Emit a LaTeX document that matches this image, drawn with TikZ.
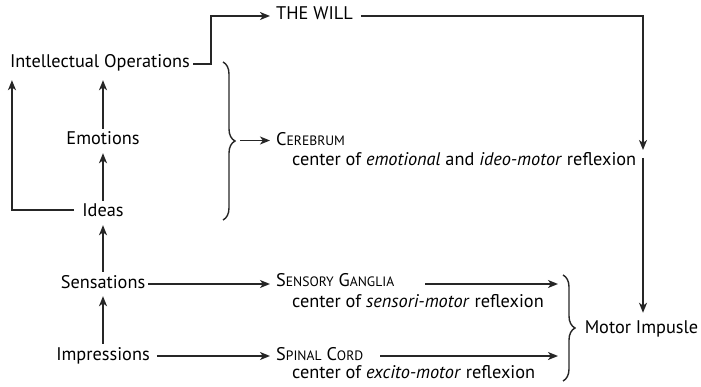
\documentclass[tikz,border=0pt]{standalone}
\usepackage{fontspec}
\setmainfont{PT Sans}
\usetikzlibrary{arrows.meta,decorations.pathreplacing,calc}
\newcommand{\fakesc}[2]{#1{\fontsize{13.6}{14}\selectfont #2}}
\begin{document}
\begin{tikzpicture}[x=1pt,y=-1pt,
  lbl/.style={anchor=base, inner xsep=3pt, inner ysep=5pt, text height=11pt, text depth=3pt,
    font=\fontsize{18.3}{20}\selectfont},
  wlbl/.style={lbl, anchor=base west},
  plain/.style={anchor=base west, inner sep=0pt, font=\fontsize{18.3}{20}\selectfont},
  conn/.style={line width=1.6pt, draw=black!85},
  arr/.style={conn, -{Stealth[length=10pt,width=8pt,inset=2.8pt]}},
  bracestyle/.style={line width=1.4pt, draw=black!85, decorate, decoration={brace, amplitude=12pt}}]
\path[use as bounding box] (0,0) rectangle (701,387);

% left column
\node[lbl] (io) at (100,68) {Intellectual Operations};
\node[lbl] (emo) at (103,145) {Emotions};
\node[lbl] (ideas) at (103,217) {Ideas};
\node[lbl] (sen) at (103,288) {Sensations};
\node[lbl] (imp) at (103,360) {Impressions};

% right labels
\node[wlbl] (will) at (273,20) {THE WILL};
\node[wlbl] (cer) at (273,146) {\fakesc{C}{EREBRUM}};
\node[plain] (cerc) at (292,166) {center of \emph{emotional} and \emph{ideo-motor} reflexion};
\node[wlbl] (sg) at (273,287) {\fakesc{S}{ENSORY} \fakesc{G}{ANGLIA}};
\node[plain] (sgc) at (292,307) {center of \emph{sensori-motor} reflexion};
\node[wlbl] (sc) at (273,360) {\fakesc{S}{PINAL} \fakesc{C}{ORD}};
\node[plain] (scc) at (292,378) {center of \emph{excito-motor} reflexion};
\node[lbl] (mi) at (641.5,333) {Motor Impusle};

% coordinates
\coordinate (b1top) at (223,62);
\coordinate (b1bot) at (223,220);
\coordinate (b1tip) at (240,140.5);
\coordinate (b2top) at (563,275);
\coordinate (b2bot) at (563,381);
\coordinate (wturn) at (211,0);
\coordinate (wdown) at (643,150);
\coordinate (wdown2) at (643,158);
\coordinate (sgout) at (425,284);
\coordinate (scout) at (380,356);
\coordinate (b2a) at (558,284);
\coordinate (b2b) at (558,356);

% vertical stack arrows
\draw[arr, shorten >=4pt] (emo.north) -- (emo.north |- io.south);
\draw[arr] (ideas.north) -- (ideas.north |- emo.south);
\draw[arr] (sen.north) -- (sen.north |- ideas.south);
\draw[arr] (imp.north) -- (imp.north |- sen.south);

% Ideas loop to Intellectual Operations
\draw[arr] ($(ideas.west)+(-5,-3)$) -| ($(io.south west)+(5,4)$);

% Intellectual Operations to THE WILL
\draw[arr, shorten >=3pt] (io.east) -- (io.east -| wturn) |- (will.west);

% THE WILL down
\draw[arr, shorten <=5pt] (will.east) -| (wdown);
\draw[arr, shorten >=4pt] (wdown2) -- (wdown2 |- mi.north);

% Cerebrum brace and arrow
\draw[bracestyle] (b1top) -- (b1bot);
\draw[arr, shorten >=3pt] (b1tip) -- (b1tip -| cer.west);

% horizontal arrows lower
\draw[arr, shorten >=3pt] (sen.east) -- (sen.east -| sg.west);
\draw[arr, shorten >=3pt, shorten <=4pt] (imp.east) -- (imp.east -| sc.west);
\draw[arr] (sgout) -- (b2a);
\draw[arr] (scout) -- (b2b);
\draw[bracestyle] (b2top) -- (b2bot);
\end{tikzpicture}
\end{document}
